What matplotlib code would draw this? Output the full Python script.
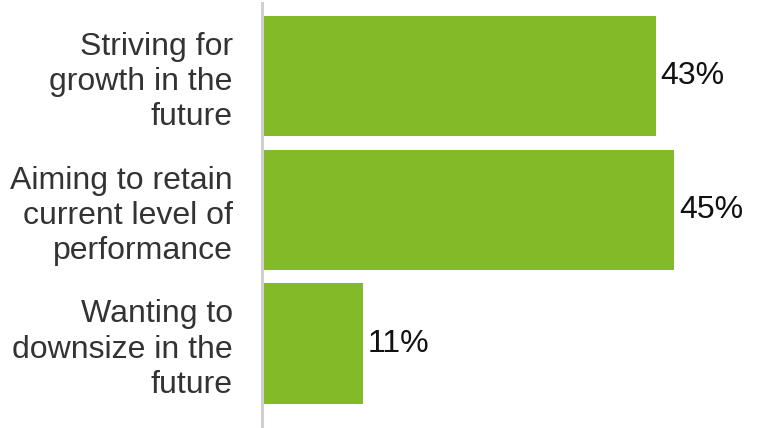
import matplotlib.pyplot as plt

# Data
categories = ['Striving for\ngrowth in the\nfuture',
              'Aiming to retain\ncurrent level of\nperformance',
              'Wanting to\ndownsize in the\nfuture']
values = [43, 45, 11]

plt.rcParams['font.family'] = ['Liberation Sans', 'DejaVu Sans']

fig = plt.figure(figsize=(7.57, 4.28), dpi=100)
ax = fig.add_axes([262 / 757, 0, 1 - 262 / 757, 1 - 3 / 428])

pos = range(len(categories))
ax.barh(pos, values, height=0.9, color='#82BB27')

for p, v in zip(pos, values):
    ax.text(v + 0.5, p, f'{v}%', va='center', ha='left', fontsize=23, color='#111111')

ax.set_xlim(0, 495 / 9.16)
ax.set_ylim((428 - 76) / 133.75, (3 - 76) / 133.75)

ax.set_yticks(list(pos))
ax.set_yticklabels(categories, fontsize=23, color='#333333', linespacing=1.22)
ax.tick_params(axis='y', length=0, pad=21)
ax.set_xticks([])

for s in ['top', 'right', 'bottom']:
    ax.spines[s].set_visible(False)
ax.spines['left'].set_color('#D0D0D0')
ax.spines['left'].set_linewidth(2.2)

fig.savefig('out.png', dpi=100)
